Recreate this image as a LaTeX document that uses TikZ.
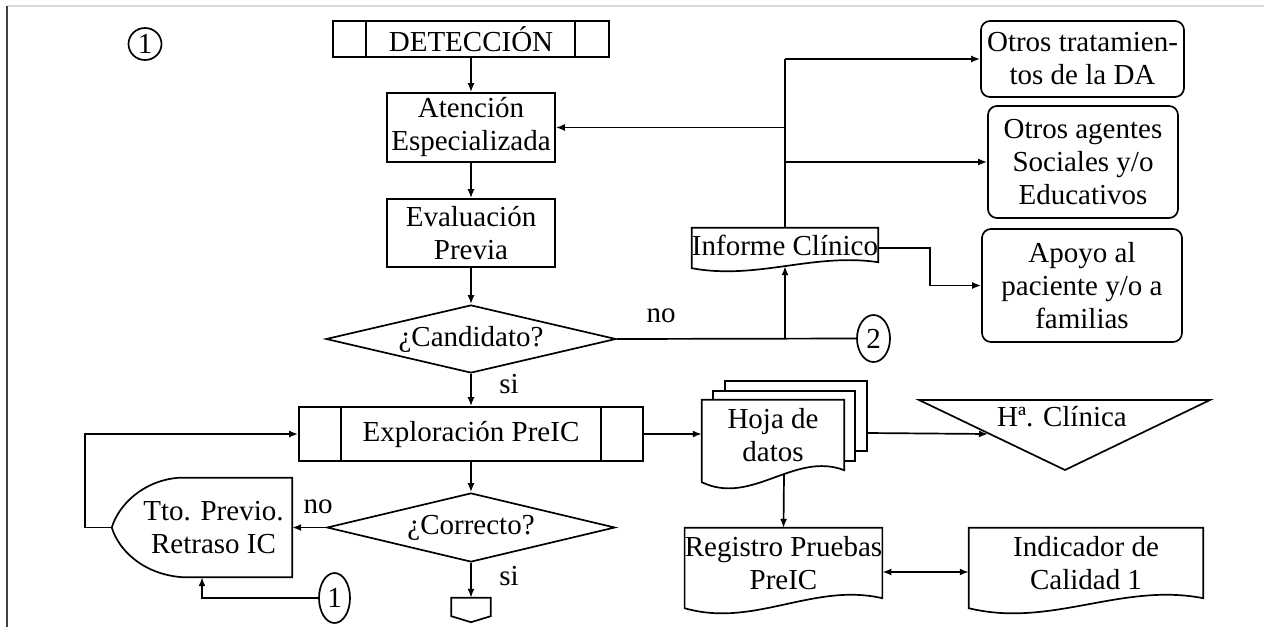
\documentclass[tikz,border=0pt]{standalone}
\usepackage{fontspec}
\setmainfont{Liberation Serif}
\usetikzlibrary{arrows.meta,shapes.geometric,calc,backgrounds}
\newcommand\docout[3][]{%
 \draw[ln,#1] (#2.south east) -- (#2.north east) -- (#2.north west) -- ($(#2.south west)+(0,#3)$) .. controls ($(#2.south west)!0.35!(#2.south east)+(0,3*#3)$) and ($(#2.south west)!0.65!(#2.south east)+(0,-1.6*#3)$) .. (#2.south east) -- cycle;}
\begin{document}
\begin{tikzpicture}[x=1pt,y=-1pt,
 ln/.style={line width=1.7pt,line join=miter},
 arr/.style={ln,-{Latex[length=9pt,width=7pt]}},
 arrr/.style={ln,{Latex[length=9pt,width=7pt]}-{Latex[length=9pt,width=7pt]}},
 txt/.style={font=\fontsize{29}{33}\selectfont,align=center,inner sep=0pt},
 sz/.style 2 args={minimum width=#1pt,minimum height=#2pt},
 box/.style={txt,draw,ln,rectangle},
 rbox/.style={box,rounded corners=9pt},
 dec/.style={txt,draw,ln,diamond,aspect=4.3},
 conn/.style={txt,draw,ln,ellipse},
 plain/.style={txt,rectangle}]
\useasboundingbox (0,0) rectangle (1264,627);
% frame
\draw[black!15,line width=1.5pt] (7,6) -- (1264,6);
\draw[black!75,line width=1.5pt] (7,6) -- (7,627);

% main column
\node[box,sz={276}{36}] (det) at (471,39) {DETECCIÓN};
\draw[ln] ([xshift=34pt]det.north west) -- ([xshift=34pt]det.south west);
\draw[ln] ([xshift=-35pt]det.north east) -- ([xshift=-35pt]det.south east);
\node[box,sz={168}{69}] (ate) at (471,127.5) {Atención\\Especializada};
\node[box,sz={168}{68}] (eva) at (471,233) {Evaluación\\Previa};
\node[dec,sz={290}{68}] (cand) at (471,339) {¿Candidato?};
\node[box,sz={344}{54}] (exp) at (471,434) {Exploración PreIC};
\draw[ln] ([xshift=43pt]exp.north west) -- ([xshift=43pt]exp.south west);
\draw[ln] ([xshift=-43pt]exp.north east) -- ([xshift=-43pt]exp.south east);
\node[dec,sz={288}{69}] (cor) at (471,527.5) {¿Correcto?};
\node[plain,sz={39}{24}] (off) at (471,610) {};
\draw[ln] (off.north west) -- (off.north east) -- ([yshift=6pt]off.south east) -- (off.south) -- ([yshift=6pt]off.south west) -- cycle;

% display shape
\node[plain,sz={157}{99}] (tto) at (213.5,527.5) {Tto. Previo.\\Retraso IC};
\coordinate (ttotip) at ($(tto.west)+(-23,0)$);
\draw[ln] (tto.north east) -- ($(tto.north east)+(-114,0)$) .. controls ($(tto.north east)+(-150,3)$) and ($(tto.north east)+(-174,28)$) .. (ttotip) .. controls ($(tto.south east)+(-174,-28)$) and ($(tto.south east)+(-150,-3)$) .. ($(tto.south east)+(-110,0)$) -- (tto.south east) -- cycle;

% connectors
\node[conn,sz={33}{32}] (c1a) at (145,44) {1};
\node[conn,sz={31}{50}] (c1b) at (334.5,598) {1};
\node[conn,sz={33}{47}] (c2) at (873.5,338.5) {2};

% right side
\node[plain,sz={184}{34}] (inf) at (785,245) {Informe Clínico};
\docout{inf}{6}
\node[rbox,sz={203}{76}] (ot) at (1082.5,59) {Otros tratamien-\\tos de la DA};
\node[rbox,sz={190}{112}] (oa) at (1083,162) {Otros agentes\\Sociales y/o\\Educativos};
\node[rbox,sz={200}{113}] (apo) at (1082,285.5) {Apoyo al\\paciente y/o a\\familias};

\node[plain,sz={142}{70}] (hoja) at (773,435) {Hoja de\\datos};
\begin{scope}[on background layer]
\filldraw[ln,fill=white] ($(hoja.north west)+(23,-19)$) rectangle ($(hoja.south east)+(23,-19)$);
\filldraw[ln,fill=white] ($(hoja.north west)+(11,-9)$) rectangle ($(hoja.south east)+(11,-9)$);
\docout[fill=white]{hoja}{12}
\end{scope}

\node[plain] (hc) at (1062,417) {Hª. Clínica};
\draw[ln] (919,400) -- (1210,400) -- (1065,470) -- cycle;
\coordinate (hcl) at (988,434);

\node[plain,sz={197}{70}] (reg) at (783.5,563) {Registro Pruebas\\PreIC};
\docout{reg}{10}
\node[plain,sz={234}{70}] (ind) at (1086,563) {Indicador de\\Calidad 1};
\docout{ind}{10}

% labels
\node[plain] (no1) at (661,316) {no};
\node[plain] (si1) at (509,384) {si};
\node[plain] (no2) at (318,507) {no};
\node[plain] (si2) at (509,576) {si};

% edges
\draw[arr] (det) -- (ate);
\draw[arr] (ate) -- (eva);
\draw[arr] (eva) -- (cand);
\draw[arr] (cand) -- (exp);
\draw[arr] (exp) -- (cor);
\draw[arr] (cor) -- (off);
\draw[ln] (cand.east) -- (c2.west);
\coordinate (j1) at (785,59);
\coordinate (j2) at (785,127.5);
\coordinate (j3) at (785,162);
\coordinate (j4) at (785,339);
\coordinate (infb) at ($(inf.south)+(0,4)$);
\draw[arr] (j4) -- (infb);
\draw[ln] (inf.north) -- (j1);
\draw[arr] (j1) -- (ot.west);
\draw[arr] (j2) -- (ate.east);
\draw[arr] (j3) -- (oa.west);
\draw[arr] ([yshift=-3pt]inf.east) -- ++(52,0) |- (apo.west);
\draw[arr] (exp.east) -- (exp.east -| hoja.west);
\coordinate (hojar) at ($(hoja.east)+(23,-2)$);
\draw[arr] (hojar) -- (hcl);
\coordinate (hojab) at ($(hoja.south)+(11,4)$);
\draw[arr] (hojab) -- (reg.north);
\draw[arrr] ([yshift=-9pt]reg.east) -- ([yshift=-9pt]ind.west);
\draw[arr] (cor.west) -- (tto.east);
\draw[arr] (ttotip) -- ++(-27,0) |- (exp.west);
\draw[arr] (c1b.west) -| ([xshift=-11.5pt]tto.south);
\end{tikzpicture}
\end{document}
